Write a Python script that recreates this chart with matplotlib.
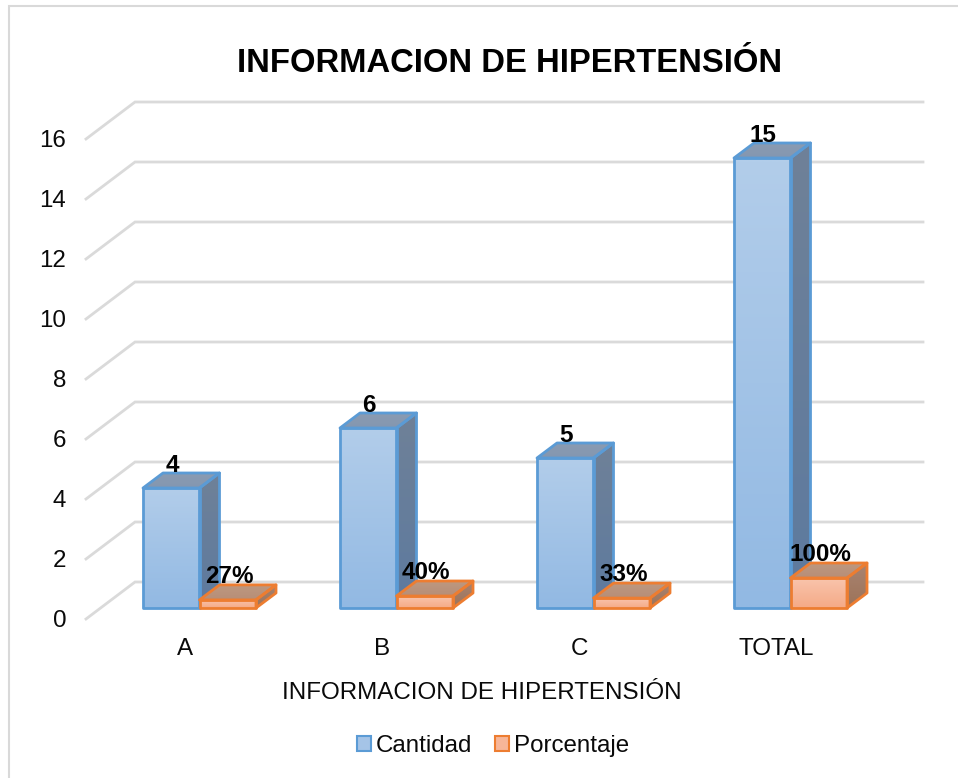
import numpy as np
import matplotlib
matplotlib.use('Agg')
import matplotlib.pyplot as plt
from matplotlib.lines import Line2D
from matplotlib.patches import Polygon, Patch
from matplotlib.colors import to_rgb

plt.rcParams['font.family'] = ['Liberation Sans', 'DejaVu Sans']

categories = ['A', 'B', 'C', 'TOTAL']
cantidad = [4, 6, 5, 15]
porcentaje = [0.27, 0.40, 0.33, 1.00]
porcentaje_labels = ['27%', '40%', '33%', '100%']
yticks = [0, 2, 4, 6, 8, 10, 12, 14, 16]
title = 'INFORMACION DE HIPERTENSIÓN'

W, H = 958, 778
CAT_PX = 197.0   # pixels per category
Y_PX = 30.0      # pixels per unit
X0_PX = 86.0     # left edge of front plane
Y0_PX = 608.0    # baseline of bars


def px_w(p):
    return p / CAT_PX


def px_h(p):
    return p / Y_PX


fig = plt.figure(figsize=(W / 100, H / 100), dpi=100)
ax = fig.add_axes([0, 0, 1, 1])
xlim = (-0.5 - X0_PX / CAT_PX, -0.5 + (W - X0_PX) / CAT_PX)
ylim = (-(H - Y0_PX) / Y_PX, Y0_PX / Y_PX)
ax.axis('off')

# chart border, only left and top show in the crop
fig.add_artist(Line2D([9 / W, 9 / W, 1], [0, 1 - 5.5 / H, 1 - 5.5 / H], transform=fig.transFigure,
                      color='#D9D9D9', lw=1.5, solid_joinstyle='miter'))

# grid: floor/wall lines in fake 3d
wall_right = -0.5 + px_w(923 - X0_PX)
for v in yticks:
    ax.plot([-0.5, -0.5 + px_w(49), wall_right],
            [v - px_h(11), v + px_h(26), v + px_h(26)],
            color='#DADADA', lw=2, solid_joinstyle='miter', zorder=1)
    ax.text(-0.5 - px_w(20), v - px_h(13), str(v), ha='right', va='center', fontsize=17.4, color='#0A0A0A')


def gradient_poly(pts, top, bottom, z):
    pts = np.array(pts)
    grad = np.linspace(to_rgb(top), to_rgb(bottom), 64).reshape(64, 1, 3)
    im = ax.imshow(grad, extent=(pts[:, 0].min(), pts[:, 0].max(), pts[:, 1].min(), pts[:, 1].max()),
                   aspect='auto', origin='upper', zorder=z, interpolation='bilinear')
    clip = Polygon(pts, transform=ax.transData, closed=True)
    im.set_clip_path(clip)


def bar3d(x, w, h, cols, edge, z):
    dx, dy = px_w(20), px_h(15)
    gradient_poly([(x, 0), (x, h), (x + w, h), (x + w, 0)], cols[0], cols[1], z)
    gradient_poly([(x + w, 0), (x + w, h), (x + w + dx, h + dy), (x + w + dx, dy)], cols[2], cols[3], z)
    gradient_poly([(x, h), (x + dx, h + dy), (x + w + dx, h + dy), (x + w, h)], cols[4], cols[5], z)
    faces = [[(x, 0), (x, h), (x + w, h), (x + w, 0)],
             [(x + w, 0), (x + w, h), (x + w + dx, h + dy), (x + w + dx, dy)],
             [(x, h), (x + dx, h + dy), (x + w + dx, h + dy), (x + w, h)]]
    for f in faces:
        ax.add_patch(Polygon(f, closed=True, fill=False, edgecolor=edge, lw=2, joinstyle='round', zorder=z + 0.1))


blue = ('#B2CDEA', '#92B9E3', '#6F8198', '#5D7A9F', '#8A9BB2', '#8497B0')
orange = ('#F9C4AC', '#F5AA87', '#A98370', '#9C7359', '#BD9880', '#B78E77')
bw = px_w(56.5)
offs = px_w(41.5)

for i, cat in enumerate(categories):
    xb = i - offs
    xo = xb + bw
    bar3d(xb, bw, cantidad[i], blue, '#5B9BD5', 3 + i * 0.01)
    bar3d(xo, bw, porcentaje[i], orange, '#ED7D31', 4 + i * 0.01)
    ax.annotate(str(cantidad[i]), (xb + bw / 2, cantidad[i]), xytext=(1, 23), textcoords='offset pixels',
                ha='center', va='center', fontsize=17.5, fontweight='bold', color='black', zorder=6)
    ax.annotate(porcentaje_labels[i], (xo + bw / 2, porcentaje[i]), xytext=(1.5, 23.5), textcoords='offset pixels',
                ha='center', va='center', fontsize=17.5, fontweight='bold', color='black', zorder=6)
    ax.text(i + px_w(1.0), -px_h(41), cat, ha='center', va='center', fontsize=17.4, color='#0A0A0A')

ax.set_xlim(xlim)
ax.set_ylim(ylim)

fig.text(509.5 / W, 1 - 63 / H, title, ha='center', va='center', fontsize=23.6, fontweight='bold', color='black')
fig.text(481.5 / W, 1 - 693 / H, title, ha='center', va='center', fontsize=17.4, color='#0A0A0A')

handles = [Patch(facecolor='#A5C4E7', edgecolor='#5B9BD5', lw=1.5, label='Cantidad'),
           Patch(facecolor='#F7B699', edgecolor='#ED7D31', lw=1.5, label='Porcentaje')]
fig.legend(handles=handles, loc='center', bbox_to_anchor=(493 / W, 1 - 746 / H), ncol=2, frameon=False,
           fontsize=17.4, handlelength=0.55, handleheight=0.58, handletextpad=0.2, columnspacing=0.98,
           labelcolor='#0A0A0A')

fig.savefig('out.png', dpi=100)
